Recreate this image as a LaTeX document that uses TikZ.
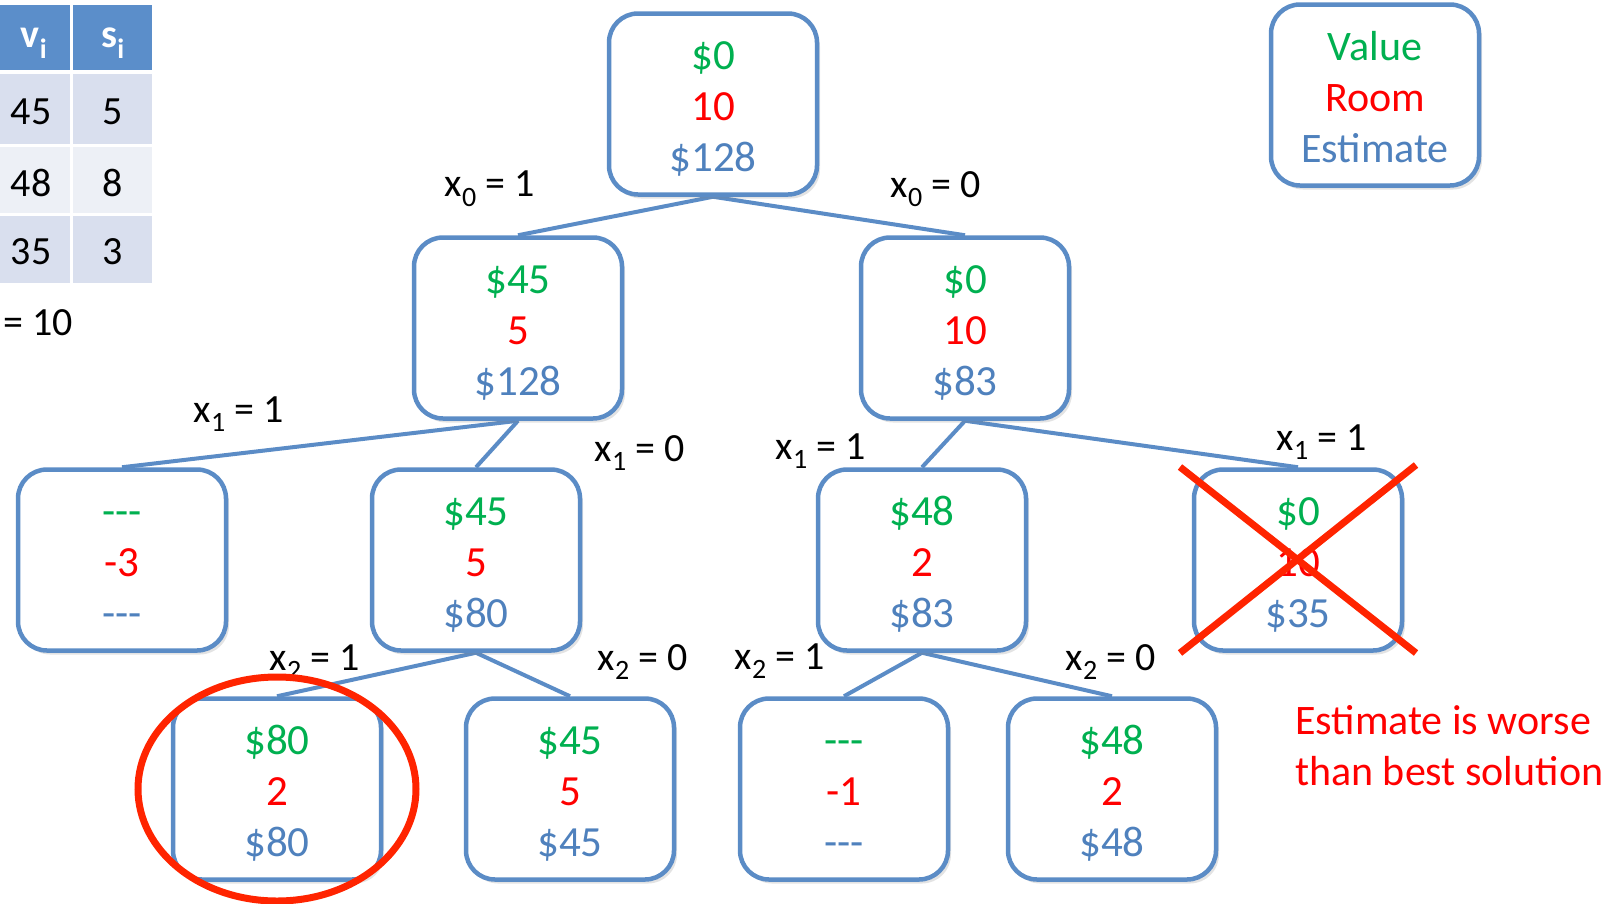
\documentclass[tikz,border=0pt]{standalone}
\usepackage{fontspec}
\setmainfont{Carlito}
\usetikzlibrary{backgrounds,shadows}
\definecolor{boxblue}{HTML}{5B8CC6}
\definecolor{vgreen}{HTML}{00B050}
\definecolor{rred}{HTML}{FF0000}
\definecolor{eblue}{HTML}{4F81BD}
\definecolor{xred}{HTML}{FF2400}
\definecolor{hdr}{HTML}{5B8ECA}
\definecolor{rowa}{HTML}{D9DFEE}
\definecolor{rowb}{HTML}{EDF0F6}
\newcommand{\tri}[3]{\rule{0pt}{40pt}{\color{vgreen}#1}\\{\color{rred}#2}\\{\color{eblue}#3}\rule[-7pt]{0pt}{7pt}}
\newcommand{\dsh}{{-}{-}{-}}
\begin{document}
\begin{tikzpicture}[x=1pt,y=-1pt,
  box/.style={draw=boxblue, line width=4.5pt, rounded corners=29pt, fill=white,
    minimum width=208pt, minimum height=181pt, align=center, inner sep=0pt,
    font=\fontsize{43}{51}\selectfont,
    drop shadow={opacity=0.22, shadow xshift=3pt, shadow yshift=-4pt}},
  edge/.style={draw=boxblue, line width=4pt},
  lab/.style={font=\fontsize{40}{48}\selectfont, inner sep=0pt},
  cell/.style={inner sep=0pt, font=\fontsize{40}{48}\selectfont},
  cross/.style={draw=xred, line width=7pt}]
\useasboundingbox (0,0) rectangle (1609,903);
% table
\fill[hdr] (0,5) rectangle (70,70);
\fill[hdr] (73,5) rectangle (152,70);
\fill[rowa] (0,74) rectangle (70,144);
\fill[rowa] (73,74) rectangle (152,144);
\fill[rowb] (0,147) rectangle (70,213);
\fill[rowb] (73,147) rectangle (152,213);
\fill[rowa] (0,216) rectangle (70,283);
\fill[rowa] (73,216) rectangle (152,283);
\node[cell, text=white, font=\fontsize{40}{48}\selectfont\bfseries] (hv) at (34,43) {v\textsubscript{i}};
\node[cell, text=white, font=\fontsize{40}{48}\selectfont\bfseries] (hs) at (113,43) {s\textsubscript{i}};
\node[cell] (v1) at (31,112) {45};
\node[cell] (s1) at (113,112) {5};
\node[cell] (v2) at (31,183) {48};
\node[cell] (s2) at (113,183) {8};
\node[cell] (v3) at (31,252) {35};
\node[cell] (s3) at (113,252) {3};
\node[cell, anchor=west] (cap) at (3,323) {= 10};
% nodes
\node[box] (root) at (713,104) {\tri{\$0}{10}{\$128}};
\node[box] (l) at (518,328) {\tri{\$45}{5}{\$128}};
\node[box] (r) at (965,328) {\tri{\$0}{10}{\$83}};
\node[box] (a) at (122,560) {\tri{\dsh}{-3}{\dsh}};
\node[box] (b) at (476,560) {\tri{\$45}{5}{\$80}};
\node[box] (c) at (922,560) {\tri{\$48}{2}{\$83}};
\node[box] (d) at (1298,560) {\tri{\$0}{10}{\$35}};
\node[box] (e) at (277,789) {\tri{\$80}{2}{\$80}};
\node[box] (f) at (570,789) {\tri{\$45}{5}{\$45}};
\node[box] (g) at (844,789) {\tri{\dsh}{-1}{\dsh}};
\node[box] (h) at (1112,789) {\tri{\$48}{2}{\$48}};
\node[box, font=\fontsize{42}{51}\selectfont] (leg) at (1375,95) {\tri{Value}{Room}{Estimate}};
% edges
\begin{scope}[on background layer]
\draw[edge] (root.south) -- (l.north);
\draw[edge] (root.south) -- (r.north);
\draw[edge] (l.south) -- (a.north);
\draw[edge] (l.south) -- (b.north);
\draw[edge] (r.south) -- (c.north);
\draw[edge] (r.south) -- (d.north);
\draw[edge] (b.south) -- (e.north);
\draw[edge] (b.south) -- (f.north);
\draw[edge] (c.south) -- (g.north);
\draw[edge] (c.south) -- (h.north);
\end{scope}
% labels
\node[lab] (t1) at (490,189) {x\textsubscript{0} = 1};
\node[lab] (t2) at (936,189) {x\textsubscript{0} = 0};
\node[lab] (t3) at (239,414) {x\textsubscript{1} = 1};
\node[lab] (t4) at (640,453) {x\textsubscript{1} = 0};
\node[lab] (t5) at (821,451) {x\textsubscript{1} = 1};
\node[lab] (t6) at (1322,442) {x\textsubscript{1} = 1};
\node[lab] (t7) at (315,662) {x\textsubscript{2} = 1};
\node[lab] (t8) at (643,662) {x\textsubscript{2} = 0};
\node[lab] (t9) at (780,661) {x\textsubscript{2} = 1};
\node[lab] (t10) at (1111,662) {x\textsubscript{2} = 0};
% cross and circle
\coordinate (x1) at (1180,467);
\coordinate (x2) at (1416,653);
\coordinate (x3) at (1180,653);
\coordinate (x4) at (1416,465);
\draw[cross] (x1) -- (x2);
\draw[cross] (x3) -- (x4);
\draw[draw=xred, line width=7pt] (e.center) ellipse [x radius=139pt, y radius=112pt];
\node[anchor=west, align=left, text=rred, font=\fontsize{42}{51}\selectfont, inner sep=0pt] (note) at (1295,746) {Estimate is worse\\than best solution};
\end{tikzpicture}
\end{document}
